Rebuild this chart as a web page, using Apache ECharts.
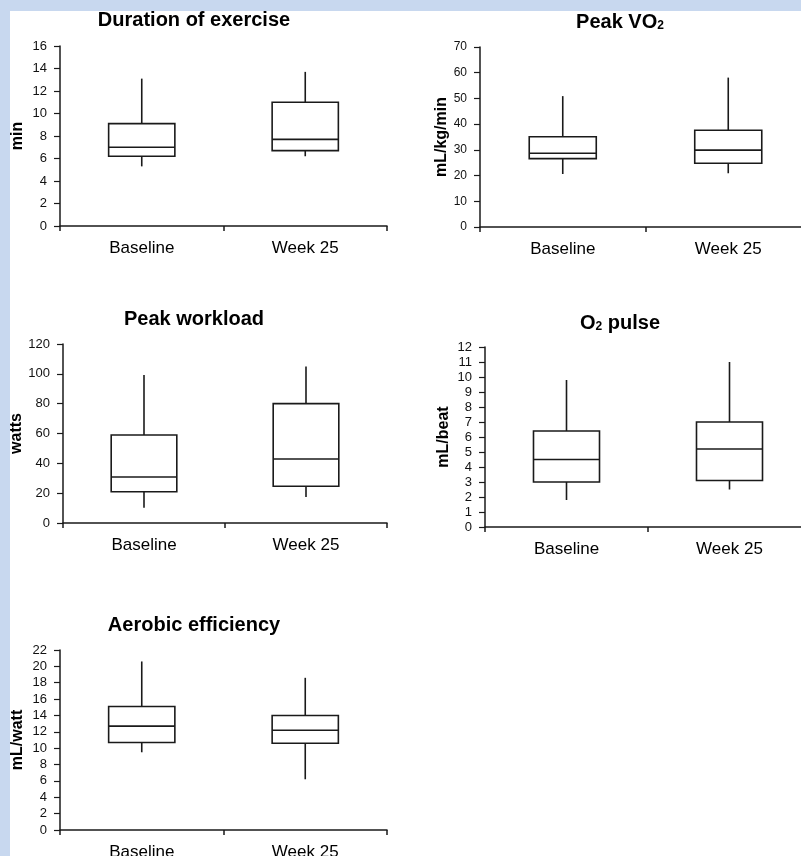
<!DOCTYPE html>
<html>
<head>
<meta charset="utf-8">
<script src="https://cdn.jsdelivr.net/npm/echarts@6/dist/echarts.min.js"></script>
<style>
  html, body { margin: 0; padding: 0; width: 801px; height: 856px; overflow: hidden; background: #c8d8ef; }
  #bg { position: absolute; left: 10px; top: 11px; right: 0; bottom: 0; background: #ffffff; }
  #chart { position: absolute; left: 0; top: 0; width: 830px; height: 856px; }
</style>
</head>
<body>
<div id="bg"></div>
<div id="chart"></div>
<script>
// ---- data ----
const categories = ['Baseline', 'Week 25'];
// each entry: [low whisker, Q1, median, Q3, high whisker]
const durationBox = [[5.3, 6.2, 7.0, 9.1, 13.1], [6.2, 6.7, 7.7, 11.0, 13.7]];
const vo2Box      = [[20.6, 26.6, 28.7, 35.1, 50.9], [20.9, 24.8, 29.9, 37.6, 58.1]];
const workloadBox = [[10.3, 21.0, 30.8, 59.0, 99.2], [17.4, 24.6, 42.9, 80.0, 105.0]];
const o2Box       = [[1.8, 3.0, 4.5, 6.4, 9.8], [2.5, 3.1, 5.2, 7.0, 11.0]];
const aeroBox     = [[9.5, 10.7, 12.7, 15.1, 20.6], [6.2, 10.6, 12.2, 14.0, 18.6]];

const panelTitles = ['Duration of exercise', '{t|Peak VO}{s|2}', 'Peak workload', '{t|O}{s|2}{t| pulse}', 'Aerobic efficiency'];
const yNames = ['min', 'mL/kg/min', 'watts', 'mL/beat', 'mL/watt'];
const yMax = [16, 70, 120, 12, 22];
const yInterval = [2, 10, 20, 1, 2];
const boxes = [durationBox, vo2Box, workloadBox, o2Box, aeroBox];

// ---- layout ----
const grids = [
  { left: 60, top: 46, width: 327, height: 180 },
  { left: 480, top: 47, width: 331, height: 180 },
  { left: 63, top: 344, width: 324, height: 179 },
  { left: 485, top: 347, width: 326, height: 180 },
  { left: 60, top: 650, width: 327, height: 180 }
];
const titlePos = [
  { x: 194, y: 10 }, { x: 620, y: 12 }, { x: 194, y: 309 }, { x: 620, y: 313 }, { x: 194, y: 615 }
];
const nameGaps = [34, 30, 37, 33, 34];
const tickFont = [13, 12, 13, 13, 13];

const ink = '#1a1a1a';
const fontFamily = '"Liberation Sans", Arial, sans-serif';

const titleRich = {
  t: { fontSize: 20, fontWeight: 'bold', color: '#000', fontFamily: fontFamily },
  s: { fontSize: 12, fontWeight: 'bold', color: '#000', fontFamily: fontFamily, padding: [8, 0, 0, 0] }
};

const option = {
  animation: false,
  backgroundColor: 'transparent',
  title: panelTitles.map((t, i) => ({
    text: t,
    left: titlePos[i].x,
    top: titlePos[i].y,
    textAlign: 'center',
    padding: 0,
    textStyle: { fontSize: 20, fontWeight: 'bold', color: '#000', fontFamily: fontFamily, rich: titleRich }
  })),
  grid: grids.map(g => Object.assign({ containLabel: false, outerBoundsMode: 'none' }, g)),
  xAxis: grids.map((g, i) => ({
    type: 'category',
    gridIndex: i,
    data: categories,
    boundaryGap: true,
    axisLine: { show: true, lineStyle: { color: ink, width: 1.5 } },
    axisTick: { show: true, length: 5, lineStyle: { color: ink, width: 1.5 } },
    axisLabel: { color: '#000', fontSize: 17, fontFamily: fontFamily, margin: 14 },
    splitLine: { show: false }
  })),
  yAxis: grids.map((g, i) => ({
    type: 'value',
    gridIndex: i,
    min: 0,
    max: yMax[i],
    interval: yInterval[i],
    name: yNames[i],
    nameLocation: 'middle',
    nameGap: nameGaps[i],
    nameTextStyle: { fontSize: 16, fontWeight: 'bold', color: '#000', fontFamily: fontFamily },
    axisLine: { show: true, lineStyle: { color: ink, width: 1.5 } },
    axisTick: { show: true, length: 6, lineStyle: { color: ink, width: 1.2 } },
    axisLabel: { color: '#111', fontSize: tickFont[i], fontFamily: fontFamily, margin: 13 },
    splitLine: { show: false }
  })),
  series: boxes.map((b, i) => ({
    type: 'custom',
    xAxisIndex: i,
    yAxisIndex: i,
    data: b.map((v, k) => [k].concat(v)),
    encode: { x: 0, y: [1, 2, 3, 4, 5] },
    renderItem: function (params, api) {
      const c = api.value(0);
      const pLow = api.coord([c, api.value(1)]);
      const pQ1 = api.coord([c, api.value(2)]);
      const pMed = api.coord([c, api.value(3)]);
      const pQ3 = api.coord([c, api.value(4)]);
      const pHigh = api.coord([c, api.value(5)]);
      const w = api.size([1, 0])[0] * 0.405;
      const cx = pMed[0];
      const st = { stroke: ink, lineWidth: 1.6, fill: null };
      return {
        type: 'group',
        children: [
          { type: 'line', shape: { x1: cx, y1: pQ3[1], x2: cx, y2: pHigh[1] }, style: st },
          { type: 'line', shape: { x1: cx, y1: pQ1[1], x2: cx, y2: pLow[1] }, style: st },
          { type: 'rect', shape: { x: cx - w / 2, y: pQ3[1], width: w, height: pQ1[1] - pQ3[1] },
            style: { stroke: ink, lineWidth: 1.6, fill: '#fff' } },
          { type: 'line', shape: { x1: cx - w / 2, y1: pMed[1], x2: cx + w / 2, y2: pMed[1] }, style: st }
        ]
      };
    }
  }))
};

const chart = echarts.init(document.getElementById('chart'), null, { renderer: 'canvas' });
chart.setOption(option);
</script>
</body>
</html>
